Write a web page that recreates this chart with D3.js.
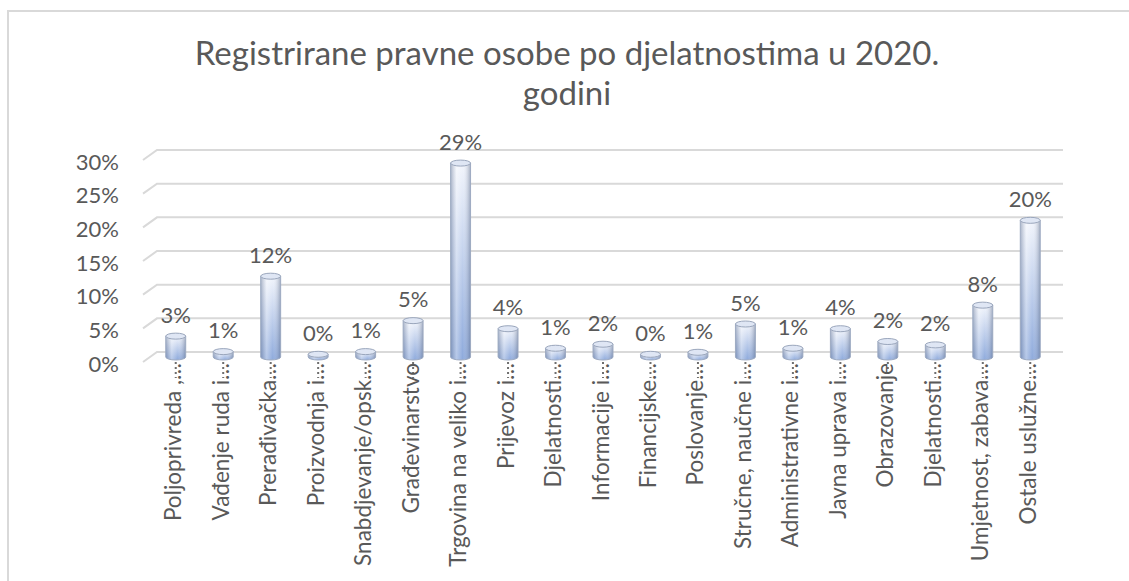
<!DOCTYPE html>
<html>
<head>
<meta charset="utf-8">
<script src="https://cdn.jsdelivr.net/npm/d3@7"></script>
<style>
  body { margin: 0; background: #fff; }
  svg { display: block; font-family: Lato, 'Open Sans', sans-serif; }
  .tick-label, .value-label, .cat-label, .title { fill: #595959; }
</style>
</head>
<body>
<script>
const categories = [
  'Poljoprivreda ,…', 'Vađenje ruda i…', 'Prerađivačka…', 'Proizvodnja i…',
  'Snabdjevanje/opsk…', 'Građevinarstvo', 'Trgovina na veliko i…', 'Prijevoz i…',
  'Djelatnosti…', 'Informacije i…', 'Financijske…', 'Poslovanje…',
  'Stručne, naučne i…', 'Administrativne i…', 'Javna uprava i…', 'Obrazovanje',
  'Djelatnosti…', 'Umjetnost, zabava…', 'Ostale uslužne…'
];
const shares = [
  0.031, 0.008, 0.120, 0.004, 0.008, 0.054, 0.288, 0.042, 0.013, 0.019,
  0.004, 0.007, 0.049, 0.013, 0.042, 0.023, 0.018, 0.077, 0.203
];
const yTicks = [0, 0.05, 0.10, 0.15, 0.20, 0.25, 0.30];
const titleLines = ['Registrirane pravne osobe po djelatnostima u 2020.', 'godini'];

const width = 1129, height = 581;
const wallDx = 14, wallDy = 10;   // depth of the side wall
const barDy = 5;                  // bars stand a bit in front of the back wall

const svg = d3.select('body').append('svg')
  .attr('width', width)
  .attr('height', height);

// outer frame
svg.append('rect')
  .attr('x', 8).attr('y', 11)
  .attr('width', width + 10).attr('height', height + 10)
  .attr('fill', 'none')
  .attr('stroke', '#d9d9d9')
  .attr('stroke-width', 2);

svg.selectAll('text.title')
  .data(titleLines)
  .enter()
  .append('text')
  .attr('class', 'title')
  .attr('x', 567)
  .attr('y', (d, i) => 52 + i * 40)
  .attr('text-anchor', 'middle')
  .attr('dominant-baseline', 'central')
  .style('font-size', '33px')
  .text(d => d);

const xScale = d3.scaleBand()
  .domain(d3.range(categories.length))
  .range([152, 1054])
  .paddingInner(0.58)
  .paddingOuter(0.29);

const yScale = d3.scaleLinear()
  .domain([0, 0.3])
  .range([352, 150]);

// gridlines with the slanted side-wall part
const grid = svg.append('g');
grid.selectAll('path')
  .data(yTicks)
  .enter()
  .append('path')
  .attr('d', d => 'M' + (143) + ',' + (yScale(d) + wallDy) +
                  'L' + (143 + wallDx) + ',' + yScale(d) +
                  'L1063,' + yScale(d))
  .attr('fill', 'none')
  .attr('stroke', '#d9d9d9')
  .attr('stroke-width', 2);

svg.selectAll('text.tick-label')
  .data(yTicks)
  .enter()
  .append('text')
  .attr('class', 'tick-label')
  .attr('x', 119)
  .attr('y', d => yScale(d) + 11)
  .attr('text-anchor', 'end')
  .attr('dominant-baseline', 'central')
  .style('font-size', '22px')
  .text(d3.format('.0%'));

// gradients for the cylinders
const defs = svg.append('defs');
const vGrad = defs.append('linearGradient')
  .attr('id', 'barV').attr('x1', 0).attr('y1', 0).attr('x2', 0).attr('y2', 1);
vGrad.append('stop').attr('offset', '0%').attr('stop-color', '#f2f5fc');
vGrad.append('stop').attr('offset', '100%').attr('stop-color', '#8eaadc');

const hGrad = defs.append('linearGradient')
  .attr('id', 'barH').attr('x1', 0).attr('y1', 0).attr('x2', 1).attr('y2', 0);
hGrad.append('stop').attr('offset', '0%').attr('stop-color', '#5a6b8c').attr('stop-opacity', 0.45);
hGrad.append('stop').attr('offset', '30%').attr('stop-color', '#ffffff').attr('stop-opacity', 0.35);
hGrad.append('stop').attr('offset', '60%').attr('stop-color', '#ffffff').attr('stop-opacity', 0);
hGrad.append('stop').attr('offset', '100%').attr('stop-color', '#4a5a7a').attr('stop-opacity', 0.45);

// dotted tick marks under each bar
svg.selectAll('line.cat-tick')
  .data(categories)
  .enter()
  .append('line')
  .attr('x1', (d, i) => xScale(i) + xScale.bandwidth() / 2)
  .attr('x2', (d, i) => xScale(i) + xScale.bandwidth() / 2)
  .attr('y1', 362)
  .attr('y2', 378)
  .attr('stroke', '#6f6f6f')
  .attr('stroke-width', 2)
  .attr('stroke-dasharray', '2,3');

const ry = 3;
const bw = xScale.bandwidth();
const cx = i => xScale(i) + bw / 2;

const bars = svg.selectAll('g.bar')
  .data(shares)
  .enter()
  .append('g')
  .attr('class', 'bar');

// body: rectangle closed with the lower half of the base ellipse
const bodyPath = (d, i) => {
  const x0 = xScale(i), x1 = x0 + bw;
  const top = yScale(d) + barDy, bottom = yScale(0) + barDy;
  return 'M' + x0 + ',' + top + 'L' + x0 + ',' + bottom +
         'A' + (bw / 2) + ',' + ry + ' 0 0,0 ' + x1 + ',' + bottom +
         'L' + x1 + ',' + top + 'Z';
};

bars.append('path')
  .attr('d', bodyPath)
  .attr('fill', 'url(#barV)');

bars.append('path')
  .attr('d', bodyPath)
  .attr('fill', 'url(#barH)')
  .attr('stroke', '#9eabc2')
  .attr('stroke-width', 1);

bars.append('ellipse')
  .attr('cx', (d, i) => cx(i))
  .attr('cy', d => yScale(d) + barDy)
  .attr('rx', bw / 2)
  .attr('ry', ry)
  .attr('fill', '#dfe6f4')
  .attr('stroke', '#9aa6bc')
  .attr('stroke-width', 1);

svg.selectAll('text.value-label')
  .data(shares)
  .enter()
  .append('text')
  .attr('class', 'value-label')
  .attr('x', (d, i) => cx(i))
  .attr('y', d => yScale(d) + barDy - 22)
  .attr('text-anchor', 'middle')
  .attr('dominant-baseline', 'central')
  .style('font-size', '22px')
  .text(d3.format('.0%'));

svg.selectAll('text.cat-label')
  .data(categories)
  .enter()
  .append('text')
  .attr('class', 'cat-label')
  .attr('transform', (d, i) => 'translate(' + (cx(i) - 3) + ',363) rotate(-90)')
  .attr('text-anchor', 'end')
  .attr('dominant-baseline', 'central')
  .style('font-size', '22.5px')
  .text(d => d);
</script>
</body>
</html>
